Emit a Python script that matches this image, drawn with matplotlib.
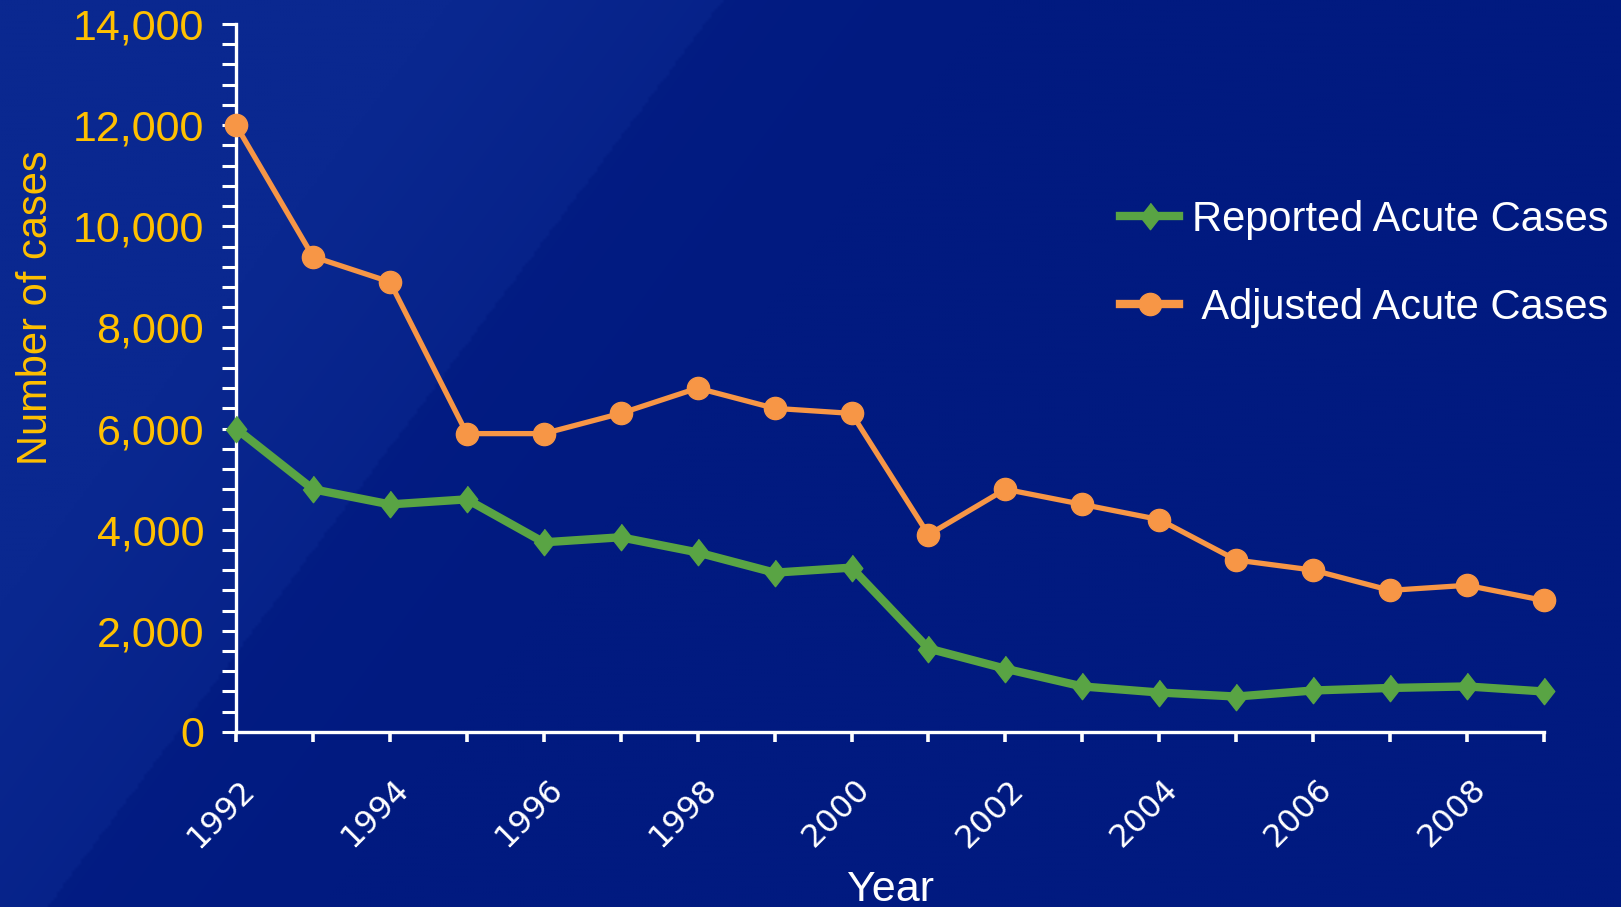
import numpy as np
import matplotlib
matplotlib.use("Agg")
from matplotlib import pyplot as plt
from matplotlib import transforms
from matplotlib.ticker import MultipleLocator, StrMethodFormatter

years = list(range(1992, 2010))
reported = [6000, 4800, 4500, 4600, 3750, 3850, 3550, 3150, 3250,
            1650, 1250, 900, 780, 700, 820, 870, 900, 800]
adjusted = [12000, 9400, 8900, 5900, 5900, 6300, 6800, 6400, 6300,
            3900, 4800, 4500, 4200, 3400, 3200, 2800, 2900, 2600]
series_names = ["Reported Acute Cases", " Adjusted Acute Cases"]

BG = "#011a82"
YELLOW = "#ffc000"
GREEN = "#59a444"
ORANGE = "#f79646"

plt.rcParams["font.family"] = ["Liberation Sans", "DejaVu Sans"]

fig = plt.figure(figsize=(16.21, 9.07), dpi=100)
fig.patch.set_facecolor(BG)

# background: dark navy, slightly lighter towards the lower left
bg = fig.add_axes([0, 0, 1, 1], zorder=-10)
h, w = 300, 540
yy, xx = np.mgrid[0:h, 0:w]
u = xx / w * 1.8 - (h - yy) / h * 0.75
light = np.clip(0.35 - u, 0, 0.6) / 0.6
light = np.where(u < 0.05, light * 0.8 + 0.2, light * 0.3)
base = np.array([1, 26, 128]) / 255.0
tint = np.array([10, 40, 144]) / 255.0
img = base[None, None, :] + (tint - base)[None, None, :] * np.clip(light, 0, 1)[..., None]
bg.imshow(img, aspect="auto", extent=[0, 1, 0, 1], origin="upper", interpolation="bilinear")
bg.set_axis_off()

ax = fig.add_axes([0.1456, 0.193, 0.8069, 0.7805])
ax.set_facecolor("none")

ax.plot(years, reported, color=GREEN, lw=6, marker=[(0, 1), (0.78, 0), (0, -1), (-0.78, 0)],
        ms=19, mec=GREEN, mfc=GREEN, clip_on=False, zorder=3, label=series_names[0])
ax.plot(years, adjusted, color=ORANGE, lw=3.8, marker="o", ms=16,
        mec=ORANGE, mfc=ORANGE, clip_on=False, zorder=3, label=series_names[1])

ax.set_xlim(1992, 2009)
ax.set_ylim(0, 14000)

for side in ["top", "right"]:
    ax.spines[side].set_visible(False)
for side in ["left", "bottom"]:
    ax.spines[side].set_color("white")
    ax.spines[side].set_linewidth(2.4)

ax.yaxis.set_major_locator(MultipleLocator(2000))
ax.yaxis.set_minor_locator(MultipleLocator(400))
ax.yaxis.set_major_formatter(StrMethodFormatter("{x:,.0f}"))
ax.tick_params(axis="y", which="both", direction="out", length=10, width=2.2,
               colors="white", labelcolor=YELLOW, labelsize=31, pad=13)

ax.set_xticks(years)
ax.set_xticklabels([str(y) if y % 2 == 0 else "" for y in years])
ax.tick_params(axis="x", which="both", direction="out", length=7, width=2.6,
               colors="white", labelcolor="white", labelsize=23, pad=31)
offset = transforms.ScaledTranslation(14 / 100, 0, fig.dpi_scale_trans)
for lab in ax.get_xticklabels():
    lab.set_rotation(45)
    lab.set_ha("right")
    lab.set_va("center")
    lab.set_rotation_mode("anchor")
    lab.set_family(["DejaVu Sans"])
    lab.set_transform(lab.get_transform() + offset)

ax.set_xlabel("Year", color="white", fontsize=31, labelpad=12)
fig.text(36 / 1621, 1 - 308 / 907, "Number of cases", color=YELLOW, fontsize=30,
         rotation=90, ha="center", va="center")

leg = ax.legend(loc="center left", bbox_to_anchor=(1120 / 1621, 1 - 264 / 907),
                bbox_transform=fig.transFigure, frameon=False, fontsize=30,
                handlelength=1.42, handletextpad=0.3, labelspacing=1.15,
                borderpad=0, borderaxespad=0)
for t in leg.get_texts():
    t.set_color("white")
for line in leg.get_lines():
    line.set_linewidth(6)

fig.savefig("out.png", dpi=100, facecolor=fig.get_facecolor())
